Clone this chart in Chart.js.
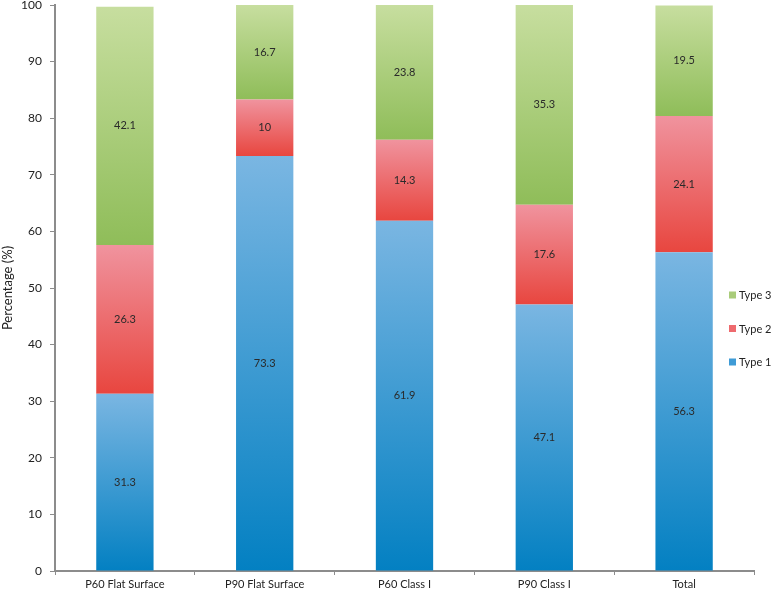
<!DOCTYPE html>
<html>
<head>
<meta charset="utf-8">
<script src="https://cdn.jsdelivr.net/npm/chart.js@4/dist/chart.umd.min.js"></script>
<style>
  html, body { margin: 0; padding: 0; background: #fff; }
  #wrap { width: 771px; height: 592px; position: relative; }
</style>
</head>
<body>
<div id="wrap"><canvas id="c" width="771" height="592"></canvas></div>
<script>
const categories = ['P60 Flat Surface', 'P90 Flat Surface', 'P60 Class I', 'P90 Class I', 'Total'];
const type1 = [31.3, 73.3, 61.9, 47.1, 56.3];
const type2 = [26.3, 10, 14.3, 17.6, 24.1];
const type3 = [42.1, 16.7, 23.8, 35.3, 19.5];
const seriesNames = ['Type 1', 'Type 2', 'Type 3'];
const yTicks = { min: 0, max: 100, step: 10 };
const yTitle = 'Percentage (%)';

const series = [type1, type2, type3];
const palette = [
  { top: '#7ab6e2', bottom: '#0380c2', key: '#3f9bd6' },
  { top: '#f0939e', bottom: '#e8463f', key: '#ee6a6e' },
  { top: '#c7de9f', bottom: '#8fbd59', key: '#a9cc7a' }
];
const FONT = 'Lato, "Open Sans", sans-serif';

function gradientFor(si) {
  return function(ctx) {
    const chart = ctx.chart;
    if (ctx.type !== 'data' || !chart.chartArea || !chart.scales.y) return palette[si].bottom;
    const di = ctx.dataIndex;
    let base = 0;
    for (let k = 0; k < si; k++) base += series[k][di];
    const top = base + series[si][di];
    const ys = chart.scales.y;
    const y0 = ys.getPixelForValue(top), y1 = ys.getPixelForValue(base);
    if (!isFinite(y0) || !isFinite(y1) || y0 === y1) return palette[si].bottom;
    const g = chart.ctx.createLinearGradient(0, y0, 0, y1);
    g.addColorStop(0, palette[si].top);
    g.addColorStop(1, palette[si].bottom);
    return g;
  };
}

const datasets = series.map((vals, si) => ({
  label: seriesNames[si],
  data: vals,
  backgroundColor: gradientFor(si),
  borderWidth: 0,
  barPercentage: 0.41,
  categoryPercentage: 1.0
}));

const labelPlugin = {
  id: 'segLabels',
  afterDatasetsDraw(chart) {
    const ctx = chart.ctx;
    ctx.save();
    ctx.font = '11px ' + FONT;
    ctx.fillStyle = '#2a2a2a';
    ctx.textAlign = 'center';
    ctx.textBaseline = 'middle';
    chart.data.datasets.forEach((ds, si) => {
      const meta = chart.getDatasetMeta(si);
      meta.data.forEach((el, i) => {
        const p = el.getProps(['x', 'y', 'base'], true);
        ctx.fillText(String(ds.data[i]), p.x, (p.y + p.base) / 2);
      });
    });
    ctx.restore();
  }
};

const legendPlugin = {
  id: 'sideLegend',
  afterDraw(chart) {
    const ctx = chart.ctx;
    const area = chart.chartArea;
    ctx.save();
    ctx.font = '11px ' + FONT;
    ctx.textBaseline = 'middle';
    ctx.textAlign = 'left';
    const cx = area.right - 25;
    const cy = (area.top + area.bottom) / 2 + 41;
    const gap = 33.5;
    for (let k = seriesNames.length - 1, row = 0; k >= 0; k--, row++) {
      const y = cy - gap + row * gap;
      ctx.fillStyle = palette[k].key;
      ctx.fillRect(cx, y - 4, 7, 7);
      ctx.fillStyle = '#222';
      ctx.fillText(seriesNames[k], cx + 10, y);
    }
    ctx.restore();
  }
};

new Chart(document.getElementById('c'), {
  type: 'bar',
  data: { labels: categories, datasets },
  options: {
    responsive: false,
    animation: false,
    layout: { padding: { left: 0, right: 17, top: 5, bottom: 0 } },
    plugins: { legend: { display: false }, tooltip: { enabled: false } },
    scales: {
      x: {
        stacked: true,
        grid: { display: true, drawOnChartArea: false, drawTicks: true, tickLength: 4, color: '#8c8c8c', offset: true },
        border: { display: true, color: '#8c8c8c', width: 2 },
        ticks: { color: '#222', font: { family: FONT, size: 11 }, padding: 3, maxRotation: 0 },
        afterFit(s) { s.height = 21; s.paddingLeft = 0; s.paddingRight = 0; }
      },
      y: {
        stacked: true,
        min: yTicks.min, max: yTicks.max,
        grid: { display: true, drawOnChartArea: false, drawTicks: true, tickLength: 5, color: '#8c8c8c' },
        border: { display: true, color: '#8c8c8c', width: 2 },
        ticks: { stepSize: yTicks.step, color: '#222', font: { family: FONT, size: 12 }, padding: 8 },
        title: { display: true, text: yTitle, color: '#222', font: { family: FONT, size: 13 }, padding: 0 },
        afterFit(s) { s.width = 55; s.paddingTop = 0; s.paddingBottom = 0; }
      }
    }
  },
  plugins: [labelPlugin, legendPlugin]
});
</script>
</body>
</html>
